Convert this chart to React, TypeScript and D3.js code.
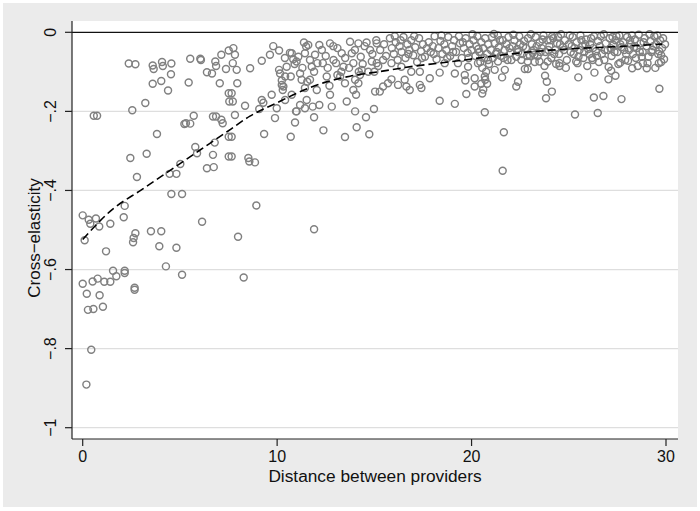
import React from "react";
import * as d3 from "d3";

// ---- data ----
const xTicks = [0, 10, 20, 30];
const yTicks = [0, -0.2, -0.4, -0.6, -0.8, -1];
const yTickLabels = ["0", "\u2212.2", "\u2212.4", "\u2212.6", "\u2212.8", "\u22121"];
const xTitle = "Distance between providers";
const yTitle = "Cross\u2212elasticity";

// fitted (dashed) curve: distance, elasticity
const fitDistance = [0, 1.5, 3, 4.5, 6, 7.5, 8.6, 10, 11.2, 12.5, 13.75, 15.2, 17, 19, 21, 22.9, 25, 27.5, 29.8];
const fitElasticity = [-0.524, -0.449, -0.399, -0.349, -0.299, -0.249, -0.212, -0.178, -0.15, -0.126, -0.111, -0.1, -0.086, -0.074, -0.061, -0.05, -0.042, -0.036, -0.03];

const pointsNear: [number, number][] = [
  [0.0,-0.463],[0.31,-0.474],[0.68,-0.471],[0.39,-0.484],[0.85,-0.491],[1.42,-0.484],[2.16,-0.439],[2.11,-0.468],[0.1,-0.526],[1.2,-0.554],[2.71,-0.508],[2.62,-0.52],[2.59,-0.531],[3.51,-0.503],[4.04,-0.503],[3.94,-0.541],[4.82,-0.545],[6.14,-0.479],[8.93,-0.438],[7.99,-0.517],[11.9,-0.498],[4.28,-0.592],[5.11,-0.613],[8.28,-0.62],[0,-0.636],[0.51,-0.63],[0.77,-0.623],[1.11,-0.631],[1.42,-0.631],[1.56,-0.603],[1.73,-0.617],[2.16,-0.603],[2.16,-0.609],[2.67,-0.646],[2.67,-0.651],[0.21,-0.661],[0.87,-0.665],[0.27,-0.702],[0.55,-0.7],[1.04,-0.694],[0.44,-0.803],[0.19,-0.891],
  [2.37,-0.079],[2.71,-0.081],[3.6,-0.084],[3.65,-0.093],[4.08,-0.075],[4.12,-0.085],[4.56,-0.079],[4.54,-0.106],[4.04,-0.123],[3.6,-0.13],[4.39,-0.147],[5.45,-0.127],[5.53,-0.067],[6.05,-0.067],[6.08,-0.07],[6.39,-0.101],[6.65,-0.104],[6.82,-0.074],[6.86,-0.085],[7.13,-0.057],[7.51,-0.046],[7.37,-0.093],[7.05,-0.129],[7.51,-0.154],[7.54,-0.175],[3.22,-0.179],[2.55,-0.197],[0.57,-0.211],[0.74,-0.211],[5.23,-0.232],[5.31,-0.23],[5.53,-0.231],[5.71,-0.211],[6.7,-0.213],[6.86,-0.213],[7.13,-0.221],[7.2,-0.23],[7.51,-0.264],[3.82,-0.257],[5.79,-0.29],[5.88,-0.306],[6.79,-0.279],[6.7,-0.31],[7.51,-0.314],[2.45,-0.318],[3.29,-0.307],[2.79,-0.366],[4.47,-0.358],[4.82,-0.358],[5.02,-0.333],[6.39,-0.344],[6.74,-0.341],[4.56,-0.409],[5.11,-0.409],
];

const pointsMid: [number, number][] = [
  [7.75,-0.04],[7.83,-0.057],[7.72,-0.078],[7.92,-0.095],[7.95,-0.129],[7.66,-0.154],[7.72,-0.175],[7.83,-0.209],[7.66,-0.264],[7.66,-0.314],[8.61,-0.091],[8.52,-0.318],[8.57,-0.327],[8.86,-0.329],[8.35,-0.186],[9.21,-0.072],[9.63,-0.057],[9.8,-0.035],[10.1,-0.046],[9.21,-0.171],[9.29,-0.178],[9.08,-0.194],[9.72,-0.158],[9.89,-0.217],[9.33,-0.257],[10.1,-0.095],[10.24,-0.122],[10.32,-0.137],[10.29,-0.146],[10.41,-0.112],[10.49,-0.087],[10.66,-0.052],[10.75,-0.053],[10.83,-0.068],[10.7,-0.112],[10.75,-0.158],[11.0,-0.2],[10.92,-0.228],[10.7,-0.264],[11.0,-0.074],[11.18,-0.104],[11.09,-0.062],[11.38,-0.026],[11.49,-0.036],[11.43,-0.053],[11.6,-0.032],[11.26,-0.12],[11.55,-0.125],[11.43,-0.141],[11.52,-0.171],[11.43,-0.192],[10.97,-0.2],[11.69,-0.07],[11.78,-0.087],[11.95,-0.057],[12.07,-0.078],[12.17,-0.032],[11.69,-0.12],[12.04,-0.146],[11.83,-0.188],[11.9,-0.215],[12.17,-0.184],[12.35,-0.078],[12.38,-0.248],[12.55,-0.112],[12.69,-0.135],[12.72,-0.158],[12.81,-0.188],[12.72,-0.028],[12.89,-0.035],[13.03,-0.078],[13.1,-0.108],[13.32,-0.053],[13.41,-0.087],[13.24,-0.112],[13.49,-0.129],[13.58,-0.175],[13.49,-0.265],[13.75,-0.024],[13.84,-0.053],[13.92,-0.078],[14.01,-0.12],[13.92,-0.146],[14.06,-0.158],[14.01,-0.2],[14.09,-0.24],[14.18,-0.028],[14.3,-0.062],[14.35,-0.095],[14.26,-0.108],[14.18,-0.129],[14.57,-0.215],[14.74,-0.258],[14.6,-0.026],[14.78,-0.045],[14.87,-0.074],[14.69,-0.1],[15.04,-0.15],[14.98,-0.194],[15.12,-0.028],[15.12,-0.078],[10.41,-0.171],[9.98,-0.192],[11.18,-0.184],[10.24,-0.133],[10.15,-0.104],
  [12.3,-0.045],[12.5,-0.06],[12.9,-0.07],[13.1,-0.04],[13.5,-0.065],[13.7,-0.09],[14.0,-0.045],[14.4,-0.08],[14.5,-0.035],[14.9,-0.055],[15.0,-0.1],[15.2,-0.085],[14.2,-0.1],[13.3,-0.1],[12.6,-0.09],[11.9,-0.1],[11.3,-0.09],[10.9,-0.08],[10.4,-0.065],
];

const pointsFar: [number, number][] = [
  [18.36,-0.173],[19.14,-0.181],[20.68,-0.202],[21.66,-0.253],[21.6,-0.35],[19.73,-0.156],[20.16,-0.137],[20.16,-0.116],[19.68,-0.122],[19.65,-0.108],[20.68,-0.112],[21.19,-0.095],[21.57,-0.114],[21.71,-0.095],[22.3,-0.137],[22.39,-0.125],[22.74,-0.093],[17.85,-0.116],[18.36,-0.102],[17.42,-0.141],[17.34,-0.133],[16.82,-0.146],[16.65,-0.137],[16.22,-0.133],[16.56,-0.12],[15.88,-0.119],[15.7,-0.129],[15.45,-0.137],[15.28,-0.15],[16.9,-0.1],[17.34,-0.1],[16.39,-0.087],[15.88,-0.078],[15.45,-0.07],[19.14,-0.104],[18.62,-0.078],[19.3,-0.078],[19.82,-0.087],[20.33,-0.078],[20.85,-0.07],[21.36,-0.074],[22.05,-0.07],[22.56,-0.07],
  [20.5,-0.13],[20.6,-0.145],[20.7,-0.12],[20.55,-0.155],[20.8,-0.13],
  [15.1,-0.02],[15.3,-0.045],[15.5,-0.03],[15.6,-0.06],[15.8,-0.015],[15.9,-0.04],[16.0,-0.055],[16.1,-0.025],[16.2,-0.07],[16.3,-0.035],[16.4,-0.05],[16.5,-0.012],[16.6,-0.065],[16.7,-0.03],[16.8,-0.045],[16.9,-0.02],[17.0,-0.058],[17.1,-0.038],[17.2,-0.075],[17.3,-0.015],[17.4,-0.048],[17.5,-0.03],[17.6,-0.062],[17.8,-0.025],[17.9,-0.05],[18.0,-0.035],[18.1,-0.01],[18.2,-0.068],
  [18.3,-0.04],[18.4,-0.022],[18.5,-0.055],[18.6,-0.03],[18.7,-0.045],[18.8,-0.012],[18.9,-0.06],[19.0,-0.035],[19.1,-0.02],[19.2,-0.05],[19.4,-0.028],[19.5,-0.065],[19.6,-0.04],[19.7,-0.015],[19.8,-0.052],[19.9,-0.03],[20.0,-0.045],
  [20.1,-0.02],[20.2,-0.06],[20.25,-0.035],[20.3,-0.01],[20.4,-0.05],[20.45,-0.075],[20.5,-0.025],[20.55,-0.09],[20.6,-0.04],[20.65,-0.065],[20.7,-0.015],[20.75,-0.1],[20.8,-0.055],[20.85,-0.03],[20.9,-0.08],[21.0,-0.045],[21.05,-0.012],[21.1,-0.065],[21.2,-0.028],[21.3,-0.05],[21.35,-0.008],[21.4,-0.038],[21.5,-0.06],[21.6,-0.02],[21.7,-0.045],[21.8,-0.03],[21.85,-0.07],[21.9,-0.012],[22.0,-0.052],[22.1,-0.035],[22.2,-0.02],[22.3,-0.062],[22.35,-0.042],[22.45,-0.01],[22.5,-0.03],[22.6,-0.055],[22.7,-0.022],[22.8,-0.04],[22.9,-0.015],[23.0,-0.06],
  [16.05,-0.01],[16.35,-0.02],[16.75,-0.055],[17.05,-0.01],[17.45,-0.065],[17.7,-0.04],[18.05,-0.055],[18.45,-0.008],[18.75,-0.065],[19.05,-0.05],[19.35,-0.01],[19.55,-0.025],[19.85,-0.065],[20.05,-0.005],[20.35,-0.042],[21.15,-0.004],[21.25,-0.055],[21.45,-0.02],[21.65,-0.065],[21.95,-0.04],[22.15,-0.006],[22.4,-0.05],[22.65,-0.035],[22.85,-0.06],
];

const pointsEnd: [number, number][] = [
  [25.32,-0.208],[26.49,-0.204],[23.83,-0.167],[24.13,-0.15],[23.78,-0.11],[23.87,-0.125],[25.49,-0.114],[26.32,-0.102],[26.29,-0.165],[26.78,-0.161],[27.04,-0.119],[27.18,-0.097],[27.4,-0.11],[27.71,-0.169],[28.26,-0.091],[29.66,-0.143],[28.81,-0.078],[29.01,-0.091],[29.63,-0.078],[27.64,-0.077],[22.89,-0.074],[22.89,-0.093],[23.49,-0.074],[23.92,-0.074],[24.52,-0.078],[24.52,-0.085],[25.38,-0.074],[26.23,-0.07],[26.83,-0.07],[23.23,-0.057],
  [23.1,-0.03],[23.2,-0.045],[23.3,-0.012],[23.4,-0.06],[23.5,-0.025],[23.6,-0.04],[23.7,-0.008],[23.8,-0.05],[23.9,-0.02],[24.0,-0.035],[24.1,-0.065],[24.2,-0.015],[24.3,-0.045],[24.4,-0.028],[24.5,-0.055],[24.6,-0.005],[24.7,-0.038],[24.8,-0.02],[24.9,-0.07],[25.0,-0.03],[25.1,-0.05],[25.2,-0.012],[25.3,-0.04],[25.4,-0.025],[25.5,-0.062],[25.6,-0.008],[25.7,-0.035],[25.8,-0.05],[25.9,-0.018],[26.0,-0.042],[26.1,-0.03],[26.2,-0.065],[26.3,-0.01],[26.4,-0.048],[26.5,-0.022],[26.6,-0.035],[26.7,-0.055],[26.8,-0.005],[26.9,-0.028],[27.0,-0.045],[27.1,-0.015],[27.2,-0.06],[27.3,-0.032],[27.4,-0.02],[27.5,-0.05],[27.6,-0.008],[27.7,-0.038],[27.8,-0.025],[27.9,-0.07],[28.0,-0.012],[28.1,-0.045],[28.2,-0.03],[28.3,-0.055],[28.4,-0.018],[28.5,-0.04],[28.6,-0.006],[28.7,-0.028],[28.8,-0.05],[28.9,-0.015],[29.0,-0.035],[29.1,-0.062],[29.2,-0.022],[29.3,-0.045],[29.4,-0.01],[29.5,-0.03],[29.6,-0.055],[29.7,-0.02],[29.8,-0.04],[29.9,-0.068],
  [23.25,-0.075],[23.75,-0.085],[24.35,-0.08],[24.85,-0.09],[25.45,-0.078],[25.95,-0.085],[26.55,-0.075],[27.05,-0.088],[27.55,-0.08],[28.05,-0.072],[28.55,-0.085],[29.05,-0.078],[29.45,-0.09],[29.75,-0.075],[24.15,-0.01],[25.15,-0.035],[26.15,-0.015],[27.15,-0.04],[28.15,-0.02],[29.15,-0.005],[23.55,-0.05],[24.55,-0.03],[25.55,-0.045],[26.45,-0.06],[27.45,-0.01],[28.45,-0.065],[29.35,-0.035],[29.65,-0.048],[29.85,-0.015],
  [23.05,-0.005],[23.35,-0.035],[23.65,-0.018],[23.95,-0.045],[24.25,-0.055],[24.45,-0.012],[24.75,-0.045],[25.05,-0.008],[25.25,-0.055],[25.65,-0.02],[25.85,-0.03],[26.05,-0.055],[26.25,-0.04],[26.65,-0.01],[26.85,-0.045],[27.25,-0.012],[27.35,-0.05],[27.65,-0.03],[27.85,-0.045],[28.25,-0.008],[28.35,-0.038],[28.65,-0.05],[28.85,-0.025],[29.25,-0.05],[29.55,-0.008],[29.75,-0.058],[29.95,-0.03],[23.15,-0.052],[24.05,-0.02],[25.75,-0.065],[27.95,-0.055],[28.75,-0.062],
];

const allPoints = [...pointsNear, ...pointsMid, ...pointsFar, ...pointsEnd];

const W = 700;
const H = 511;
const FONT = "'Liberation Sans', Arial, Helvetica, sans-serif";

export default function App() {
  const plot = { left: 72, right: 678, top: 21, bottom: 439 };
  const x = d3.scaleLinear().domain([0, 30]).range([82.7, 666]);
  const y = d3.scaleLinear().domain([-1, 0]).range([427.7, 32.3]);

  const fitData = fitDistance.map((d, i) => [d, fitElasticity[i]] as [number, number]);
  const line = d3
    .line<[number, number]>()
    .x((d) => x(d[0]))
    .y((d) => y(d[1]))
    .curve(d3.curveMonotoneX);

  return (
    <svg width={W} height={H} style={{ position: "absolute", left: 0, top: 0, display: "block" }} fontFamily={FONT}>
      <rect x={0} y={0} width={W} height={H} fill="#ffffff" />
      <rect x={3} y={3} width={694} height={504} fill="#ebebeb" />
      <rect x={plot.left} y={plot.top} width={plot.right - plot.left} height={plot.bottom - plot.top} fill="#ffffff" />

      {/* gridlines */}
      {yTicks.filter((t) => t !== 0).map((t) => (
        <line key={"g" + t} x1={plot.left} x2={plot.right} y1={y(t)} y2={y(t)} stroke="#dedede" strokeWidth={1.2} />
      ))}

      {/* points */}
      <g fill="none" stroke="#808080" strokeWidth={1.45}>
        {allPoints.map((p, i) => (
          <circle key={i} cx={x(p[0])} cy={y(p[1])} r={3.5} />
        ))}
      </g>

      {/* zero line */}
      <line x1={plot.left} x2={plot.right} y1={y(0)} y2={y(0)} stroke="#111" strokeWidth={1.3} />

      {/* fit line */}
      <path d={line(fitData) || ""} fill="none" stroke="#000" strokeWidth={1.6} strokeDasharray="8,4" />

      {/* axes */}
      <line x1={plot.left} x2={plot.left} y1={plot.top} y2={plot.bottom} stroke="#222" strokeWidth={1.2} />
      <line x1={plot.left} x2={plot.right} y1={plot.bottom} y2={plot.bottom} stroke="#222" strokeWidth={1.2} />

      {yTicks.map((t, i) => (
        <g key={"yt" + t}>
          <line x1={plot.left - 7} x2={plot.left} y1={y(t)} y2={y(t)} stroke="#222" strokeWidth={1.2} />
          <text
            transform={`translate(${56},${y(t)}) rotate(-90)`}
            textAnchor="middle"
            fontSize={16}
            fill="#111"
          >
            {yTickLabels[i]}
          </text>
        </g>
      ))}

      {xTicks.map((t) => (
        <g key={"xt" + t}>
          <line x1={x(t)} x2={x(t)} y1={plot.bottom} y2={plot.bottom + 7} stroke="#222" strokeWidth={1.2} />
          <text x={x(t)} y={462} textAnchor="middle" fontSize={16} fill="#111">
            {t}
          </text>
        </g>
      ))}

      <text x={(plot.left + plot.right) / 2} y={482} textAnchor="middle" fontSize={17.3} fill="#111">
        {xTitle}
      </text>
      <text transform={`translate(39.5,238) rotate(-90)`} textAnchor="middle" fontSize={17} fill="#111">
        {yTitle}
      </text>
    </svg>
  );
}
